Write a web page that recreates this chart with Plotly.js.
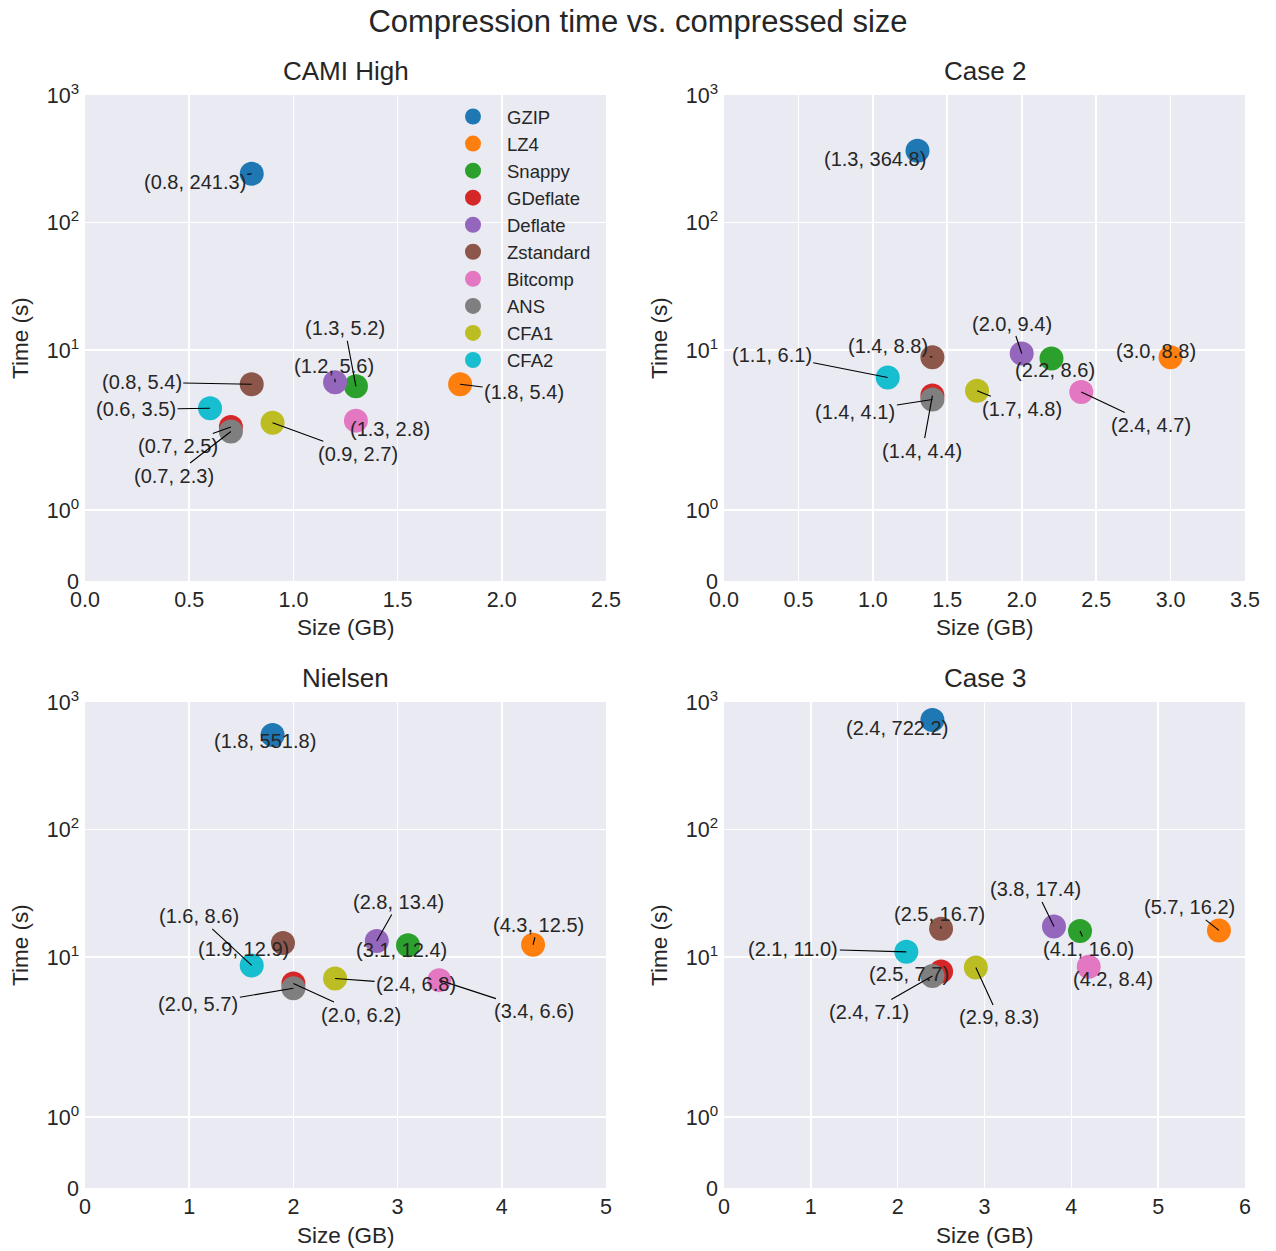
<!DOCTYPE html>
<html>
<head>
<meta charset="utf-8">
<script src="https://cdn.plot.ly/plotly-3.0.1.min.js"></script>
<style>html,body{margin:0;padding:0;background:#fff;}#chart{width:1276px;height:1251px;}</style>
</head>
<body>
<div id="chart"></div>
<script>
// ---------------- data ----------------
const methods = ['GZIP', 'LZ4', 'Snappy', 'GDeflate', 'Deflate', 'Zstandard', 'Bitcomp', 'ANS', 'CFA1', 'CFA2'];
const panelTitles = ['CAMI High', 'Case 2', 'Nielsen', 'Case 3'];

const camiHighSize = [0.8, 1.8, 1.3, 0.7, 1.2, 0.8, 1.3, 0.7, 0.9, 0.6];
const camiHighTime = [241.3, 5.4, 5.2, 2.5, 5.6, 5.4, 2.8, 2.3, 2.7, 3.5];

const case2Size = [1.3, 3.0, 2.2, 1.4, 2.0, 1.4, 2.4, 1.4, 1.7, 1.1];
const case2Time = [364.8, 8.8, 8.6, 4.4, 9.4, 8.8, 4.7, 4.1, 4.8, 6.1];

const nielsenSize = [1.8, 4.3, 3.1, 2.0, 2.8, 1.9, 3.4, 2.0, 2.4, 1.6];
const nielsenTime = [551.8, 12.5, 12.4, 6.2, 13.4, 12.9, 6.6, 5.7, 6.8, 8.6];

const case3Size = [2.4, 5.7, 4.1, 2.5, 3.8, 2.5, 4.2, 2.4, 2.9, 2.1];
const case3Time = [722.2, 16.2, 16.0, 7.7, 17.4, 16.7, 8.4, 7.1, 8.3, 11.0];

const yTickValues = [0, 1, 10, 100, 1000];
const yTickText = ['0', '10<sup>0</sup>', '10<sup>1</sup>', '10<sup>2</sup>', '10<sup>3</sup>'];

// ---------------- styling / layout (not data) ----------------
const colors = ['#1f77b4', '#ff7f0e', '#2ca02c', '#d62728', '#9467bd', '#8c564b', '#e377c2', '#7f7f7f', '#bcbd22', '#17becf'];
const xMax = [2.5, 3.5, 5, 6];
const xDtick = [0.5, 0.5, 1, 1];
const xFormat = ['.1f', '.1f', 'd', 'd'];

// label offsets in pixels (text centre relative to marker), per panel, per method
const labelOffsets = [
  [[-57, 8], [64, 8], [-11, -58], [-53, 19], [-1, -16], [-110, -2], [34, 8], [-57, 44], [85, 31], [-74, 1]],
  [[-43, 8], [-15, -6], [4, 12], [-10, 55], [-10, -30], [-44, -11], [70, 33], [-77, 12], [45, 18], [-116, -23]],
  [[-8, 6], [5, -20], [-7, 5], [68, 31], [22, -39], [-39, 6], [95, 31], [-95, 16], [81, 6], [-53, -49]],
  [[-35, 8], [-29, -23], [8, 18], [-32, 2], [-18, -37], [-2, -15], [24, 12], [-63, 36], [23, 50], [-113, -3]]
];

// symmetric log scale (linthresh 2, linscale 1, base 10), in decades
const LINTHRESH = 2, LINSCALE = 1;
const LINADJ = LINSCALE / (1 - 1 / 10);
function symlog(v) {
  const a = Math.abs(v);
  const s = v < 0 ? -1 : 1;
  if (a <= LINTHRESH) return v / LINTHRESH * LINADJ;
  return s * (LINADJ + Math.log10(a / LINTHRESH));
}

const W = 1276, H = 1251;
// plot areas in pixels: [left, right, top, bottom]
const boxes = [
  [85, 606, 95, 581],
  [724, 1245, 95, 581],
  [85, 606, 702, 1188],
  [724, 1245, 702, 1188]
];

const panels = [
  [camiHighSize, camiHighTime],
  [case2Size, case2Time],
  [nielsenSize, nielsenTime],
  [case3Size, case3Time]
];

const FONT = '"Liberation Sans", Arial, sans-serif';
const TXT = '#262626';

const traces = [];
const annotations = [];
const layout = {
  width: W, height: H,
  margin: {l: 0, r: 0, t: 0, b: 0},
  paper_bgcolor: '#ffffff',
  plot_bgcolor: '#EAEAF2',
  font: {family: FONT, color: TXT, size: 21},
  showlegend: true,
  title: {
    text: 'Compression time vs. compressed size',
    font: {family: FONT, size: 31, color: TXT},
    x: 0.5, xanchor: 'center',
    y: 1 - 21 / H, yanchor: 'middle', yref: 'container'
  },
  legend: {
    x: 439 / W, xanchor: 'left',
    y: 1 - 98 / H, yanchor: 'top',
    bgcolor: 'rgba(0,0,0,0)',
    borderwidth: 0,
    font: {family: FONT, size: 18.5, color: TXT},
    itemwidth: 58,
    tracegroupgap: 0
  },
  annotations: annotations
};

panels.forEach((p, pi) => {
  const [sizes, times] = p;
  const ax = pi === 0 ? '' : String(pi + 1);
  const [l, r, t, b] = boxes[pi];
  layout['xaxis' + ax] = {
    domain: [l / W, r / W],
    anchor: 'y' + ax,
    range: [0, xMax[pi]],
    dtick: xDtick[pi], tick0: 0,
    tickformat: xFormat[pi],
    showgrid: true, gridcolor: '#ffffff', gridwidth: 1.6,
    zeroline: false, showline: false, ticks: '',
    ticklabelstandoff: 3,
    tickfont: {family: FONT, size: 21.5, color: TXT},
    automargin: false, fixedrange: true
  };
  layout['yaxis' + ax] = {
    domain: [1 - b / H, 1 - t / H],
    anchor: 'x' + ax,
    range: [symlog(0), symlog(1000)],
    tickmode: 'array',
    tickvals: yTickValues.map(symlog),
    ticktext: yTickText,
    showgrid: true, gridcolor: '#ffffff', gridwidth: 1.6,
    zeroline: false, showline: false, ticks: '',
    ticklabelstandoff: 5,
    tickfont: {family: FONT, size: 21.5, color: TXT},
    automargin: false, fixedrange: true
  };

  methods.forEach((m, mi) => {
    traces.push({
      type: 'scatter', mode: 'markers',
      x: [sizes[mi]], y: [symlog(times[mi])],
      xaxis: 'x' + ax, yaxis: 'y' + ax,
      name: m, legendgroup: m,
      showlegend: pi === 0,
      marker: {color: colors[mi], size: 24, line: {width: 0}},
      hoverinfo: 'skip'
    });
    const off = labelOffsets[pi][mi];
    annotations.push({
      xref: 'x' + ax, yref: 'y' + ax,
      x: sizes[mi], y: symlog(times[mi]),
      text: '(' + sizes[mi].toFixed(1) + ', ' + times[mi].toFixed(1) + ')',
      showarrow: true, arrowhead: 0, arrowwidth: 1.1, arrowcolor: '#000000',
      standoff: 0, startstandoff: 0,
      ax: off[0], ay: off[1], axref: 'pixel', ayref: 'pixel',
      font: {family: FONT, size: 20, color: TXT}
    });
  });

  // panel title
  annotations.push({
    xref: 'paper', yref: 'paper',
    x: (l + r) / 2 / W, y: 1 - (t - 24) / H,
    xanchor: 'center', yanchor: 'middle',
    text: panelTitles[pi], showarrow: false,
    font: {family: FONT, size: 26, color: TXT}
  });
  // x-axis title
  annotations.push({
    xref: 'paper', yref: 'paper',
    x: (l + r) / 2 / W, y: 1 - (b + 47) / H,
    xanchor: 'center', yanchor: 'middle',
    text: 'Size (GB)', showarrow: false,
    font: {family: FONT, size: 22.5, color: TXT}
  });
  // y-axis title
  annotations.push({
    xref: 'paper', yref: 'paper',
    x: (l - 65) / W, y: 1 - ((t + b) / 2) / H,
    xanchor: 'center', yanchor: 'middle',
    text: 'Time (s)', showarrow: false, textangle: -90,
    font: {family: FONT, size: 22.5, color: TXT}
  });
});

Plotly.newPlot('chart', traces, layout, {displayModeBar: false, staticPlot: true});
</script>
</body>
</html>
